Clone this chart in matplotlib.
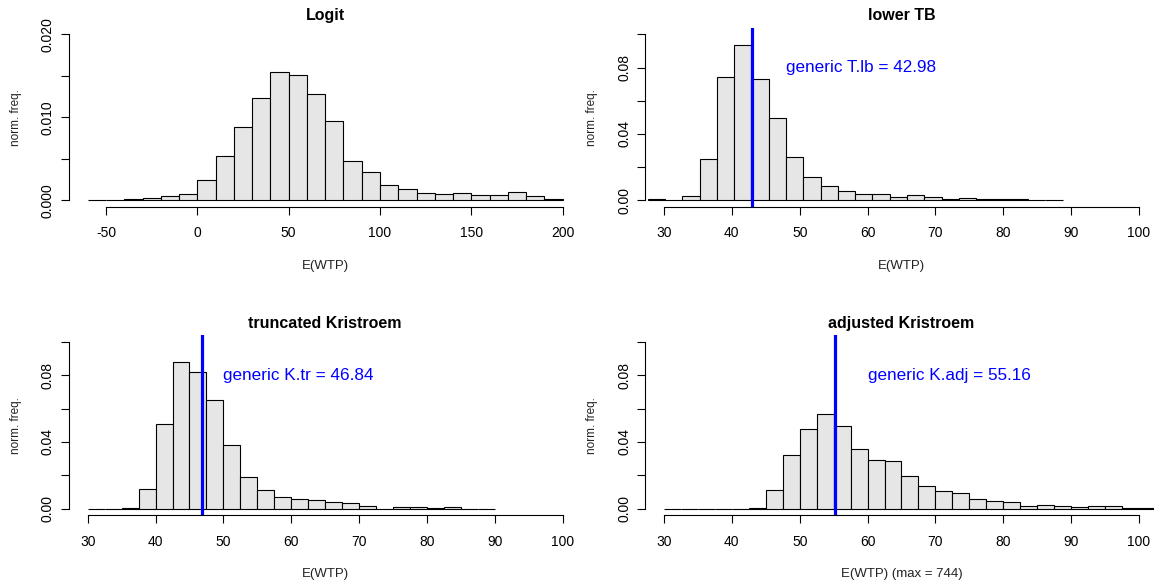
import numpy as np
import matplotlib
matplotlib.use("Agg")
import matplotlib.pyplot as plt

plt.rcParams['font.family'] = ['Liberation Sans', 'DejaVu Sans']

# Logit: breaks -60..200 by 10
logit_breaks = np.arange(-60, 201, 10)
logit_dens = [0.0, 0.0, 0.0001, 0.00025, 0.0005, 0.0007, 0.0024, 0.0053, 0.0088,
              0.0123, 0.0154, 0.0151, 0.0128, 0.0096, 0.0047, 0.0034, 0.0018,
              0.0013, 0.0009, 0.0007, 0.00085, 0.0006, 0.0006, 0.001, 0.0005, 0.00015]

# lower TB: 24 bins from 27.6 to 88.73
tb_breaks = np.linspace(27.6, 88.73, 25)
tb_dens = [0.0006, 0.0, 0.0024, 0.0247, 0.074, 0.0935, 0.0728, 0.0494, 0.0261,
           0.0139, 0.0084, 0.0054, 0.0036, 0.0036, 0.0018, 0.003, 0.0018, 0.0006,
           0.0012, 0.0006, 0.0006, 0.0006, 0.0, 0.0]
tb_mean = 42.98

# truncated Kristroem: 30..90 by 2.5
ktr_breaks = np.arange(30, 90.1, 2.5)
ktr_dens = [0.0, 0.0, 0.0006, 0.0115, 0.0509, 0.0878, 0.0818, 0.0653, 0.0382,
            0.0189, 0.0109, 0.0068, 0.006, 0.0054, 0.0038, 0.0032, 0.0018, 0.0,
            0.0012, 0.0012, 0.0006, 0.0012, 0.0, 0.0]
ktr_mean = 46.84

# adjusted Kristroem: 30..105 by 2.5 (clipped at plot edge)
kadj_breaks = np.arange(30, 105.1, 2.5)
kadj_dens = [0.0, 0.0, 0.0, 0.0, 0.0, 0.0004, 0.0109, 0.0323, 0.0475, 0.0566,
             0.0497, 0.036, 0.0291, 0.0285, 0.0194, 0.0133, 0.0103, 0.0091,
             0.0055, 0.0048, 0.0042, 0.0018, 0.0024, 0.0018, 0.0012, 0.0018,
             0.0018, 0.0006, 0.0006, 0.0006]
kadj_mean = 55.16

W, H = 1154, 586
fig = plt.figure(figsize=(W / 100, H / 100), dpi=100)


def px_axes(left, top, width, height):
    return fig.add_axes([left / W, 1 - (top + height) / H, width / W, height / H])


def r_hist(ax, breaks, dens, title, xlabel, xr, xticks, yticks, ylabels):
    breaks = np.asarray(breaks)
    ax.bar(breaks[:-1], dens, width=np.diff(breaks), align='edge',
           color='#e6e6e6', edgecolor='black', linewidth=0.8)
    ext = 0.04 * (xr[1] - xr[0])
    ax.set_xlim(xr[0] - ext, xr[1] + ext)
    yext = 0.04 * yticks[-1]
    ax.set_ylim(-yext, yticks[-1] + yext)
    for s in ['top', 'right']:
        ax.spines[s].set_visible(False)
    ax.spines['bottom'].set_bounds(xticks[0], xticks[-1])
    ax.spines['left'].set_bounds(yticks[0], yticks[-1])
    ax.spines['bottom'].set_linewidth(0.8)
    ax.spines['left'].set_linewidth(0.8)
    ax.set_xticks(xticks)
    ax.set_xticklabels([str(t) for t in xticks])
    ax.set_yticks(yticks)
    ax.set_yticklabels(ylabels, rotation=90, va='center')
    ax.tick_params(axis='both', length=6, width=0.8, labelsize=10, pad=4)
    ax.tick_params(axis='x', pad=8)
    ax.set_title(title, fontsize=11.5, fontweight='bold', pad=5.5)
    ax.set_xlabel(xlabel, fontsize=9.5, labelpad=14, color='#222222')
    ax.set_ylabel('norm. freq.', fontsize=8.5, labelpad=13.5, color='#222222')


def blue_mark(ax, xv, tx, label):
    ax.axvline(xv, color='#0000ff', linewidth=2.3)
    ax.text(tx, 0.08, label, color='#0000ff', fontsize=12.3, ha='left', va='center')


ax1 = px_axes(68.7, 27.7, 513, 179.2)
r_hist(ax1, logit_breaks, logit_dens, 'Logit', 'E(WTP)', (-60, 200),
       [-50, 0, 50, 100, 150, 200],
       [0, 0.005, 0.010, 0.015, 0.020], ['0.000', '', '0.010', '', '0.020'])

ktick = [30, 40, 50, 60, 70, 80, 90, 100]
kyt = [0, 0.02, 0.04, 0.06, 0.08, 0.10]
kyl = ['0.00', '', '0.04', '', '0.08', '']

ax2 = px_axes(645, 27.7, 513, 179.2)
r_hist(ax2, tb_breaks, tb_dens, 'lower TB', 'E(WTP)', (30, 100), ktick, kyt, kyl)
blue_mark(ax2, tb_mean, 48, 'generic T.lb = 42.98')

ax3 = px_axes(68.7, 335.3, 513, 179.9)
r_hist(ax3, ktr_breaks, ktr_dens, 'truncated Kristroem', 'E(WTP)', (30, 100), ktick, kyt, kyl)
blue_mark(ax3, ktr_mean, 50, 'generic K.tr = 46.84')

ax4 = px_axes(645, 335.3, 513, 179.9)
r_hist(ax4, kadj_breaks, kadj_dens, 'adjusted Kristroem', 'E(WTP) (max = 744)', (30, 100),
       ktick, kyt, kyl)
blue_mark(ax4, kadj_mean, 60, 'generic K.adj = 55.16')

fig.savefig('out.png', dpi=100)
